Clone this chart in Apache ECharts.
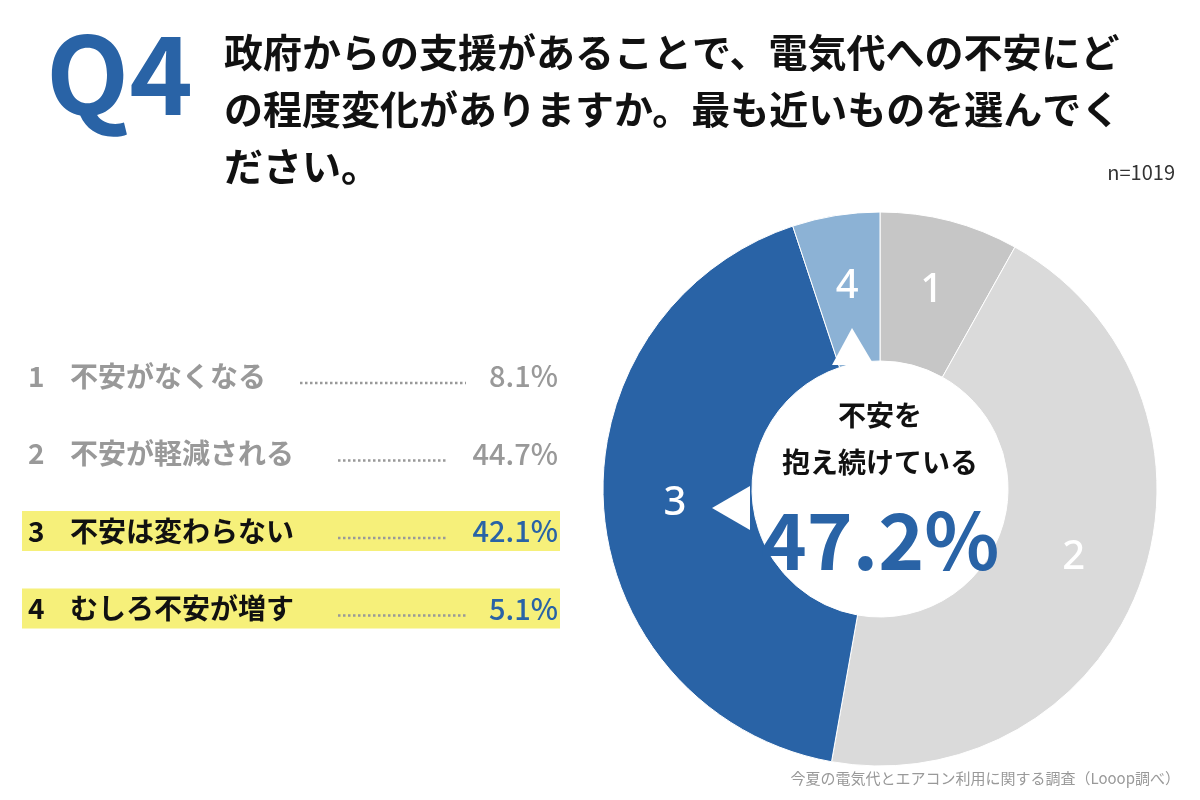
<!DOCTYPE html>
<html>
<head>
<meta charset="utf-8">
<script src="https://cdn.jsdelivr.net/npm/echarts@6/dist/echarts.min.js"></script>
<style>html,body{margin:0;padding:0;background:#fff}#main{width:1200px;height:800px}</style>
</head>
<body>
<div id="main"></div>
<script type="text/javascript">
var nums = ['1', '2', '3', '4'];
var answers = ['不安がなくなる', '不安が軽減される', '不安は変わらない', 'むしろ不安が増す'];
var values = [8.1, 44.7, 42.1, 5.1];
var sliceColors = ['#c6c6c6', '#dadada', '#2963a6', '#8cb2d5'];
var highlighted = [false, false, true, true];
// leader dots start/end x per row
var dotFrom = [300, 338, 338, 338];
var dotTo = [466, 446, 446, 466];

var myChart = echarts.init(document.getElementById('main'));
var FONT = '"Noto Sans CJK JP", sans-serif';
var graphic = [
    {type: 'text', left: 46, top: 20, style: {text: 'Q4', font: 'bold 108px ' + FONT, fill: '#2963a6'}},
    {type: 'text', left: 224, top: 24, style: {text: '政府からの支援があることで、電気代への不安にど\nの程度変化がありますか。最も近いものを選んでく\nださい。', font: 'bold 39px ' + FONT, lineHeight: 57, fill: '#111'}},
    {type: 'text', right: 25, top: 162, style: {text: 'n=1019', font: '20px ' + FONT, fill: '#333'}},
    {type: 'text', right: 20, top: 771, style: {text: '今夏の電気代とエアコン利用に関する調査（Looop調べ）', font: '15px ' + FONT, fill: '#999'}},
    // speech-bubble notches
    {type: 'polygon', shape: {points: [[852, 328], [832, 365], [874, 365]]}, style: {fill: '#fff'}, z: 10},
    {type: 'polygon', shape: {points: [[712, 508], [750, 486], [750, 530]]}, style: {fill: '#fff'}, z: 10},
    {type: 'text', x: 880, y: 415, style: {text: '不安を', font: 'bold 28px ' + FONT, fill: '#111', align: 'center', verticalAlign: 'middle'}, z: 11},
    {type: 'text', x: 880, y: 462, style: {text: '抱え続けている', font: 'bold 28px ' + FONT, fill: '#111', align: 'center', verticalAlign: 'middle'}, z: 11},
    {type: 'text', x: 880, y: 540, style: {text: '47.2%', font: 'bold 78px ' + FONT, fill: '#2963a6', align: 'center', verticalAlign: 'middle'}, z: 11}
];
answers.forEach(function (a, i) {
    var y = 376 + i * 77.5;
    var col = highlighted[i] ? '#111' : '#999';
    var valCol = highlighted[i] ? '#2963a6' : '#999';
    if (highlighted[i]) {
        graphic.push({type: 'rect', shape: {x: 22, y: y - 20, width: 538, height: 40}, style: {fill: '#f6f07a'}});
    }
    graphic.push({type: 'text', x: 28, y: y, style: {text: nums[i], font: 'bold 28px ' + FONT, fill: col, verticalAlign: 'middle'}});
    graphic.push({type: 'text', x: 70, y: y, style: {text: a, font: 'bold 28px ' + FONT, fill: col, verticalAlign: 'middle'}});
    graphic.push({type: 'line', shape: {x1: dotFrom[i], y1: y + 7, x2: dotTo[i], y2: y + 7}, style: {stroke: '#999', lineWidth: 2.5, lineDash: [2.5, 2.5]}});
    graphic.push({type: 'text', x: 558, y: y, style: {text: values[i].toFixed(1) + '%', font: '500 29px ' + FONT, fill: valCol, align: 'right', verticalAlign: 'middle'}});
});

option = {
    animation: false,
    graphic: graphic,
    series: [{
        type: 'pie',
        center: [880, 489],
        radius: [128, 277],
        startAngle: 90,
        clockwise: true,
        silent: true,
        itemStyle: {borderColor: '#fff', borderWidth: 1},
        label: {
            show: true,
            position: 'inside',
            formatter: '{b}',
            color: '#fff',
            fontSize: 40,
            fontWeight: 500,
            fontFamily: 'Noto Sans, sans-serif'
        },
        labelLine: {show: false},
        data: values.map(function (v, i) {
            return {value: v, name: nums[i], itemStyle: {color: sliceColors[i]}};
        })
    }]
};
myChart.setOption(option);
</script>
</body>
</html>
